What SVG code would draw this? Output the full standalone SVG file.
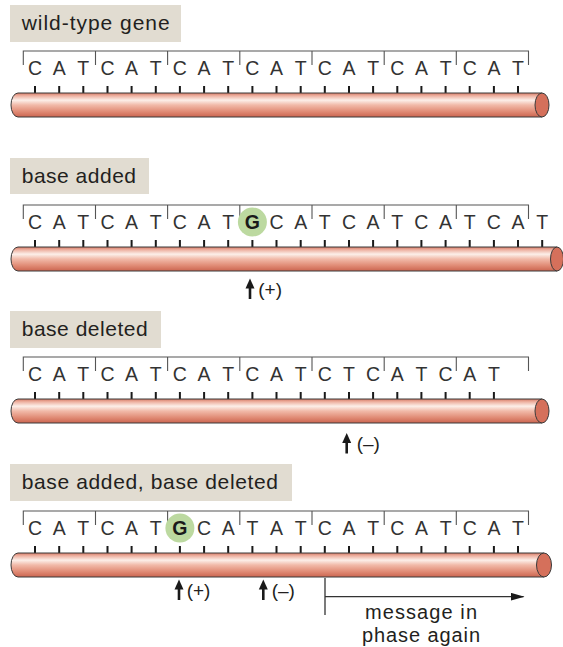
<svg xmlns="http://www.w3.org/2000/svg" width="563" height="647" viewBox="0 0 563 647">
  <style>
    .tag { fill: #e1dcd1; }
    .tagtxt { font-family: "Liberation Sans", Arial, sans-serif; font-size: 21px; fill: #231f20; }
    .base { font-family: "Liberation Sans", Arial, sans-serif; font-size: 19.5px; fill: #333; text-anchor: middle; }
    .ins { font-weight: bold; fill: #1a1a1a; }
    .codon { fill: none; stroke: #555; stroke-width: 1.1; }
    .tick { fill: none; stroke: #1a1a1a; stroke-width: 2; }
    .body { fill: url(#tube); stroke: #3a3a3a; stroke-width: 1; }
    .cap { fill: #d5705b; stroke: #3a3a3a; stroke-width: 1; }
    .mark { fill: #bcd9a0; }
    .note { font-family: "Liberation Sans", Arial, sans-serif; font-size: 19px; fill: #231f20; }
    .msg { font-family: "Liberation Sans", Arial, sans-serif; font-size: 20px; fill: #231f20; text-anchor: middle; }
    .line { fill: none; stroke: #333; stroke-width: 1.3; }
  </style>
  <defs>
    <linearGradient id="tube" x1="0" y1="0" x2="0" y2="1">
      <stop offset="0" stop-color="#d67b66"/>
      <stop offset="0.12" stop-color="#eeb2a2"/>
      <stop offset="0.3" stop-color="#fcefe9"/>
      <stop offset="0.5" stop-color="#f1baa9"/>
      <stop offset="0.78" stop-color="#e08a74"/>
      <stop offset="1" stop-color="#cb6550"/>
    </linearGradient>
    <!-- codon brackets of the original reading frame -->
    <path id="frame" class="codon" d="M23.3 65V51H528.5V65M95.5 51V65M167.6 51V65M239.8 51V65M312 51V65M384.2 51V65M456.3 51V65"/>
    <!-- small upward pointer -->
    <g id="up">
      <path d="M0 0L-4.5 10H4.5Z" fill="#1a1a1a"/>
      <path d="M0 8V20.5" stroke="#1a1a1a" stroke-width="2.6"/>
    </g>
    <marker id="head" viewBox="0 0 14 8" refX="13" refY="4" markerWidth="14" markerHeight="8" markerUnits="userSpaceOnUse" orient="auto">
      <path d="M0 0L14 4L0 8Z" fill="#1a1a1a"/>
    </marker>
  </defs>

  <!-- wild-type gene -->
  <g id="wild-type">
    <rect class="tag" x="10" y="5" width="171" height="37"/>
    <text class="tagtxt" x="21.7" y="30" textLength="148" lengthAdjust="spacing">wild-type gene</text>
    <use href="#frame"/>
    <text class="base" y="75" x="35 59.2 83.3 107.5 131.6 155.8 179.9 204.1 228.2 252.4 276.5 300.7 324.8 349 373.1 397.3 421.4 445.6 469.7 493.9 518">CATCATCATCATCATCATCAT</text>
    <path class="tick" d="M35 86v7M59.2 86v7M83.3 86v7M107.5 86v7M131.6 86v7M155.8 86v7M179.9 86v7M204.1 86v7M228.2 86v7M252.4 86v7M276.5 86v7M300.7 86v7M324.8 86v7M349 86v7M373.1 86v7M397.3 86v7M421.4 86v7M445.6 86v7M469.7 86v7M493.9 86v7M518 86v7"/>
    <path class="body" d="M542 93H18A7 12 0 0 0 18 117H542Z"/>
    <ellipse class="cap" cx="542" cy="105" rx="7" ry="12"/>
  </g>

  <!-- base added -->
  <g id="base-added" transform="translate(0 154)">
    <rect class="tag" x="10" y="4" width="139" height="36"/>
    <text class="tagtxt" x="21.7" y="29" textLength="114.3" lengthAdjust="spacing">base added</text>
    <use href="#frame"/>
    <circle class="mark" cx="252.4" cy="68" r="14.5"/>
    <text class="base" y="75" x="35 59.2 83.3 107.5 131.6 155.8 179.9 204.1 228.2 252.4 276.5 300.7 324.8 349 373.1 397.3 421.4 445.6 469.7 493.9 518 542.2">CATCATCAT<tspan class="ins">G</tspan>CATCATCATCAT</text>
    <path class="tick" d="M35 86v7M59.2 86v7M83.3 86v7M107.5 86v7M131.6 86v7M155.8 86v7M179.9 86v7M204.1 86v7M228.2 86v7M252.4 86v7M276.5 86v7M300.7 86v7M324.8 86v7M349 86v7M373.1 86v7M397.3 86v7M421.4 86v7M445.6 86v7M469.7 86v7M493.9 86v7M518 86v7M542.2 86v7"/>
    <path class="body" d="M557 93H18A7 12 0 0 0 18 117H557Z"/>
    <ellipse class="cap" cx="557" cy="105" rx="6.5" ry="12"/>
    <use href="#up" x="250" y="124.5"/>
    <text class="note" x="258.3" y="142">(+)</text>
  </g>

  <!-- base deleted -->
  <g id="base-deleted" transform="translate(0 306)">
    <rect class="tag" x="10" y="5" width="151" height="37"/>
    <text class="tagtxt" x="21.7" y="30" textLength="126" lengthAdjust="spacing">base deleted</text>
    <use href="#frame"/>
    <text class="base" y="75" x="35 59.2 83.3 107.5 131.6 155.8 179.9 204.1 228.2 252.4 276.5 300.7 324.8 349 373.1 397.3 421.4 445.6 469.7 493.9">CATCATCATCATCTCATCAT</text>
    <path class="tick" d="M35 86v7M59.2 86v7M83.3 86v7M107.5 86v7M131.6 86v7M155.8 86v7M179.9 86v7M204.1 86v7M228.2 86v7M252.4 86v7M276.5 86v7M300.7 86v7M324.8 86v7M349 86v7M373.1 86v7M397.3 86v7M421.4 86v7M445.6 86v7M469.7 86v7M493.9 86v7"/>
    <path class="body" d="M542 93H18A7 12 0 0 0 18 117H542Z"/>
    <ellipse class="cap" cx="542" cy="105" rx="7" ry="12"/>
    <use href="#up" x="346.7" y="127"/>
    <text class="note" x="356.7" y="144">(–)</text>
  </g>

  <!-- base added, base deleted -->
  <g id="added-and-deleted" transform="translate(0 460)">
    <rect class="tag" x="10" y="4" width="282" height="37"/>
    <text class="tagtxt" x="21.7" y="28.5" textLength="256.3" lengthAdjust="spacing">base added, base deleted</text>
    <use href="#frame"/>
    <circle class="mark" cx="179.9" cy="68" r="14.5"/>
    <text class="base" y="75" x="35 59.2 83.3 107.5 131.6 155.8 179.9 204.1 228.2 252.4 276.5 300.7 324.8 349 373.1 397.3 421.4 445.6 469.7 493.9 518">CATCAT<tspan class="ins">G</tspan>CATATCATCATCAT</text>
    <path class="tick" d="M35 86v7M59.2 86v7M83.3 86v7M107.5 86v7M131.6 86v7M155.8 86v7M179.9 86v7M204.1 86v7M228.2 86v7M252.4 86v7M276.5 86v7M300.7 86v7M324.8 86v7M349 86v7M373.1 86v7M397.3 86v7M421.4 86v7M445.6 86v7M469.7 86v7M493.9 86v7M518 86v7"/>
    <path class="body" d="M544 93H18A7 12 0 0 0 18 117H544Z"/>
    <ellipse class="cap" cx="544" cy="105" rx="7.5" ry="12"/>
  </g>

  <!-- position markers and span of restored reading frame -->
  <g id="connectors">
    <use href="#up" x="179" y="579.5"/>
    <text class="note" x="186.7" y="597">(+)</text>
    <use href="#up" x="263.3" y="579.5"/>
    <text class="note" x="271.7" y="597">(–)</text>
    <path class="line" d="M325 578V615"/>
    <path class="line" d="M325 596.7H523.5" marker-end="url(#head)"/>
  </g>
  <g id="phase-note">
    <text class="msg" x="421" y="619" textLength="112" lengthAdjust="spacing">message in</text>
    <text class="msg" x="421" y="642" textLength="118" lengthAdjust="spacing">phase again</text>
  </g>
</svg>
